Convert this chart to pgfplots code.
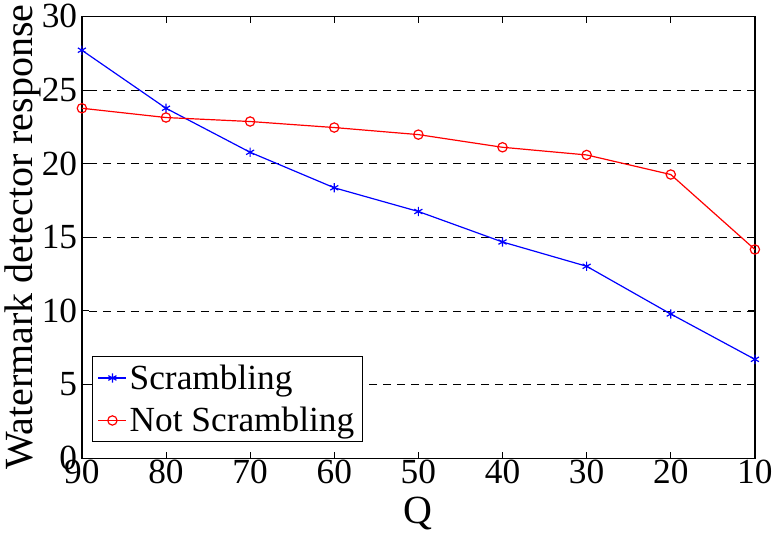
\documentclass[border=0pt]{standalone}
\usepackage{fontspec}
\setmainfont{Liberation Serif}
\usepackage{pgfplots}
\pgfplotsset{compat=1.18}
\begin{document}
\begin{tikzpicture}
\begin{axis}[
  scale only axis,
  width=505pt, height=331.5pt,
  xmin=10, xmax=90, ymin=0, ymax=30,
  x dir=reverse,
  xtick={10,20,...,90}, ytick={0,5,...,30},
  /pgf/number format/assume math mode=true,
  tick label style={font=\fontsize{26.5}{28}\selectfont},
  xticklabel style={yshift=2pt},
  label style={font=\fontsize{30}{32}\selectfont},
  xlabel={Q}, ylabel={Watermark detector response},
  xlabel style={yshift=-3pt},
  ylabel style={yshift=-6pt},
  ymajorgrids,
  major grid style={black, dash pattern=on 6pt off 4.5pt, line width=0.5pt},
  axis line style={line width=1pt},
  major tick length=5pt,
  tick style={black, line width=0.6pt},
  legend style={at={(0.015,0.036)}, anchor=south west,
    font=\fontsize{26.5}{30}\selectfont, draw=black, line width=0.8pt,
    inner sep=4pt, row sep=8pt},
  legend cell align=left,
  legend image code/.code={
    \draw[mark repeat=2,mark phase=2,#1] plot coordinates {(0pt,0pt) (10.5pt,0pt) (21pt,0pt)};},
]
\addplot[blue, line width=0.9pt, mark=asterisk, mark size=3.5pt, mark options={line width=0.9pt}]
  coordinates {(90,27.7) (80,23.76) (70,20.77) (60,18.36) (50,16.75) (40,14.68) (30,13.03) (20,9.79) (10,6.71)};
\addlegendentry{Scrambling}
\addplot[red, line width=0.9pt, mark=o, mark size=3.5pt, mark options={line width=0.9pt}]
  coordinates {(90,23.76) (80,23.13) (70,22.86) (60,22.45) (50,21.97) (40,21.11) (30,20.59) (20,19.26) (10,14.17)};
\addlegendentry{Not Scrambling}
\end{axis}
\end{tikzpicture}
\end{document}
